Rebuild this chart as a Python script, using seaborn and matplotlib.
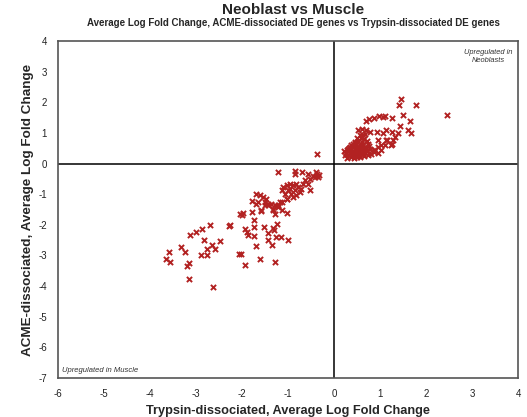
import matplotlib
matplotlib.use("Agg")
import matplotlib.pyplot as plt
import seaborn as sns
import pandas as pd

# Trypsin-dissociated (x) and ACME-dissociated (y) average log fold changes
trypsin_down = [-0.37, -1.22, -0.85, -0.85, -0.69, -0.56, -0.46, -0.40, -0.36, -0.42, -0.53, -0.35, -0.33,
                -1.11, -1.03, -0.96, -0.89, -0.82, -0.78, -0.85, -1.00, -1.07, -1.14, -0.93, -0.82, -0.75,
                -0.71, -0.64, -0.67, -0.53, -0.96, -0.89, -1.03, -0.56,
                -1.69, -1.61, -1.54, -1.47, -1.65, -1.51, -1.43, -1.36, -1.29, -1.18, -1.22,
                -1.79, -1.69, -1.51, -1.58, -1.43, -1.33, -1.22, -1.14, -1.03,
                -2.04, -1.98, -2.01, -1.79, -1.74, -1.58, -1.33, -1.29, -1.14, -1.03,
                -2.69, -2.87, -2.99, -3.12, -2.28, -2.26, -1.94, -1.90, -1.87, -1.74, -1.74, -1.52,
                -1.33, -1.30, -1.25, -1.43, -1.43, -1.34, -1.27, -1.16, -0.99, -1.69,
                -2.82, -2.48, -2.66, -2.59, -2.77, -2.90, -2.75, -3.32, -3.24, -3.59, -3.66, -3.57,
                -3.15, -3.19, -2.03, -2.06, -1.94, -1.61, -1.29, -3.15, -2.64]
acme_down = [0.30, -0.29, -0.24, -0.35, -0.27, -0.35, -0.41, -0.27, -0.33, -0.44, -0.49, -0.45, -0.38,
             -0.76, -0.71, -0.65, -0.71, -0.65, -0.76, -0.87, -0.87, -0.98, -0.87, -0.98, -1.03, -0.93,
             -0.82, -0.54, -0.65, -0.87, -0.82, -1.09, -1.14, -0.65,
             -1.00, -1.03, -1.09, -1.14, -1.25, -1.25, -1.31, -1.31, -1.36, -1.25, -1.42,
             -1.23, -1.31, -1.36, -1.52, -1.34, -1.47, -1.34, -1.25, -1.14,
             -1.63, -1.61, -1.69, -1.58, -1.83, -1.56, -1.52, -1.63, -1.52, -1.61,
             -2.02, -2.13, -2.23, -2.34, -2.05, -2.01, -2.12, -2.23, -2.34, -2.37, -2.07, -2.07,
             -2.09, -2.18, -1.98, -2.28, -2.50, -2.67, -2.41, -2.41, -2.48, -2.70,
             -2.48, -2.53, -2.67, -2.80, -2.80, -2.97, -3.00, -2.72, -2.90, -2.90, -3.10, -3.21,
             -3.26, -3.35, -2.94, -2.94, -3.32, -3.13, -3.21, -3.77, -4.04]

trypsin_up = [1.46, 1.41, 1.79, 2.46, 1.51, 1.66, 1.44, 1.61, 1.68, 1.27, 0.88, 0.98, 1.06, 1.10,
              0.70, 0.75, 1.14, 1.27, 1.39, 0.93, 1.06, 1.32, 1.28, 1.16, 1.25, 1.23, 1.03, 1.03,
              0.52, 0.60, 0.70, 0.78, 0.67, 0.96, 1.14, 1.10, 0.88, 0.96, 0.96,
              0.28, 0.36, 0.43, 0.51, 0.57, 0.66, 0.24, 0.31, 0.39, 0.47, 0.54, 0.62, 0.73, 0.81,
              0.27, 0.35, 0.41, 0.48, 0.58, 0.64, 0.75, 0.86, 0.22, 0.33, 0.40, 0.49, 0.55, 0.65,
              0.72, 0.90, 0.30, 0.37, 0.46, 0.52, 0.61, 0.69, 0.79, 0.35, 0.44, 0.51, 0.60, 0.67,
              0.77, 0.41, 0.48, 0.57, 0.64, 0.74, 0.45, 0.53, 0.61, 0.71, 0.50, 0.59, 0.66, 0.56,
              0.63, 0.25, 0.32, 0.44, 0.38, 0.29, 0.53, 0.45]
acme_up = [2.12, 1.90, 1.90, 1.58, 1.60, 1.38, 1.22, 1.09, 1.01, 1.50, 1.50, 1.54, 1.52, 1.54,
           1.39, 1.44, 1.11, 1.03, 1.00, 1.03, 1.00, 0.87, 0.76, 0.78, 0.65, 0.60, 0.60, 0.43,
           1.09, 1.14, 1.09, 1.03, 0.98, 0.78, 0.76, 0.60, 0.43, 0.33, 0.54,
           0.19, 0.21, 0.18, 0.22, 0.20, 0.24, 0.27, 0.28, 0.26, 0.29, 0.27, 0.30, 0.28, 0.31,
           0.34, 0.35, 0.33, 0.36, 0.34, 0.37, 0.35, 0.38, 0.41, 0.42, 0.40, 0.43, 0.41, 0.44,
           0.42, 0.45, 0.48, 0.49, 0.47, 0.50, 0.48, 0.51, 0.49, 0.55, 0.56, 0.54, 0.57, 0.55,
           0.58, 0.63, 0.64, 0.62, 0.65, 0.63, 0.72, 0.73, 0.71, 0.74, 0.82, 0.83, 0.81, 0.92,
           0.94, 0.36, 0.52, 0.24, 0.60, 0.46, 0.30, 0.68]

x_ticks = [-6, -5, -4, -3, -2, -1, 0, 1, 2, 3, 4]
y_ticks = [4, 3, 2, 1, 0, -1, -2, -3, -4, -5, -6, -7]

df = pd.DataFrame({
    "trypsin": trypsin_down + trypsin_up,
    "acme": acme_down + acme_up,
})

sns.set_style("white")
plt.rcParams["font.family"] = ["Liberation Sans", "DejaVu Sans"]

fig = plt.figure(figsize=(5.27, 4.17), dpi=100)
ax = fig.add_axes([0.110, 0.0935, 0.873, 0.808])

ax.axhline(0, color="black", lw=1.1, zorder=1)
ax.axvline(0, color="black", lw=1.1, zorder=1)

sns.scatterplot(data=df, x="trypsin", y="acme", marker="x", color="#B22222",
                s=14, linewidth=1.4, ax=ax, zorder=3)

ax.set_xlim(-6, 4)
ax.set_ylim(-7, 4)
ax.set_xticks(x_ticks)
ax.set_yticks(y_ticks)
ax.set_xticklabels([str(t) for t in x_ticks])
ax.set_yticklabels([str(t) for t in y_ticks])
ax.tick_params(axis="both", length=0, labelsize=7, pad=8, colors="#222222")

for s in ax.spines.values():
    s.set_color("#555555")
    s.set_linewidth(1.2)

ax.set_xlabel("Trypsin-dissociated, Average Log Fold Change", fontsize=9.2,
              fontweight="bold", labelpad=4)
ax.set_ylabel("ACME-dissociated, Average Log Fold Change", fontsize=9.7,
              fontweight="bold", labelpad=3)

fig.text(0.556, 0.993, "Neoblast vs Muscle", ha="center", va="top",
         fontsize=11, fontweight="bold")
fig.text(0.556, 0.958, "Average Log Fold Change, ACME-dissociated DE genes vs Trypsin-dissociated DE genes",
         ha="center", va="top", fontsize=7.0, fontweight="bold")

ax.text(0.935, 0.975, "Upregulated in\nNeoblasts", transform=ax.transAxes,
        ha="center", va="top", fontsize=5.4, style="italic", color="#333333",
        linespacing=1.2)
ax.text(0.008, 0.012, "Upregulated in Muscle", transform=ax.transAxes,
        ha="left", va="bottom", fontsize=5.5, style="italic", color="#333333")

fig.savefig("out.png", dpi=100)
